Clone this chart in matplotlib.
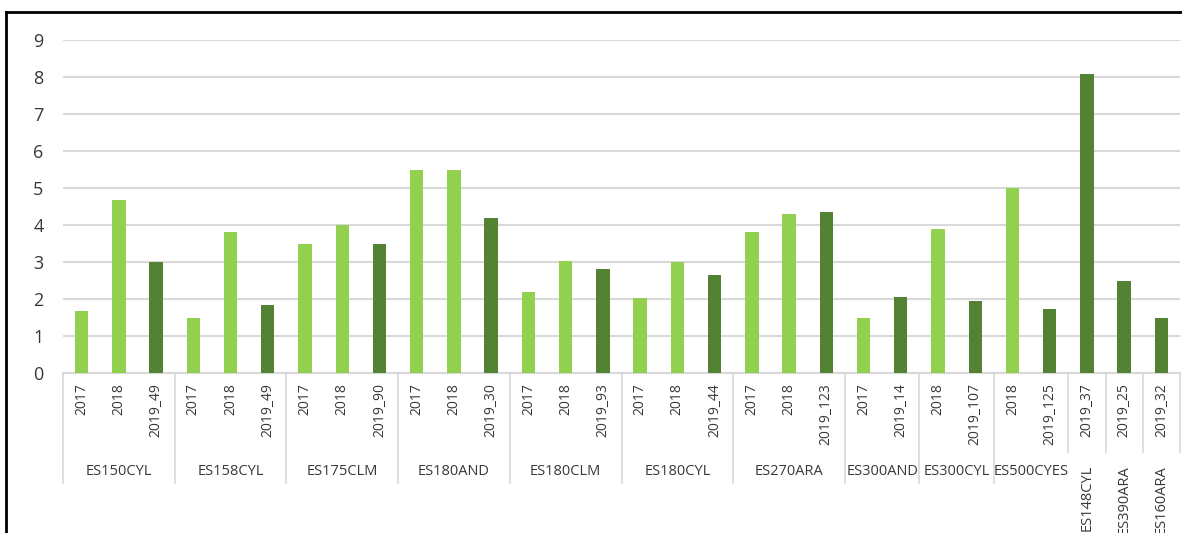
import matplotlib
matplotlib.use("Agg")
import matplotlib.pyplot as plt
from matplotlib.lines import Line2D
from matplotlib.transforms import Bbox, TransformedBbox, blended_transform_factory

plt.rcParams['font.family'] = ['Open Sans', 'DejaVu Sans']

# data
groups = ['ES150CYL', 'ES158CYL', 'ES175CLM', 'ES180AND', 'ES180CLM', 'ES180CYL',
          'ES270ARA', 'ES300AND', 'ES300CYL', 'ES500CYES', 'ES148CYL', 'ES390ARA', 'ES160ARA']
group_cats = [
    ['2017', '2018', '2019_49'],
    ['2017', '2018', '2019_49'],
    ['2017', '2018', '2019_90'],
    ['2017', '2018', '2019_30'],
    ['2017', '2018', '2019_93'],
    ['2017', '2018', '2019_44'],
    ['2017', '2018', '2019_123'],
    ['2017', '2019_14'],
    ['2018', '2019_107'],
    ['2018', '2019_125'],
    ['2019_37'],
    ['2019_25'],
    ['2019_32'],
]
group_vals = [
    [1.67, 4.68, 3.0],
    [1.5, 3.8, 1.85],
    [3.5, 4.0, 3.5],
    [5.5, 5.5, 4.2],
    [2.18, 3.03, 2.81],
    [2.04, 2.99, 2.66],
    [3.8, 4.3, 4.34],
    [1.5, 2.05],
    [3.9, 1.94],
    [5.0, 1.74],
    [8.07],
    [2.49],
    [1.5],
]

LIGHT = '#92D050'
DARK = '#548235'
TEXT = '#383838'
GRID = '#d9d9d9'

labels, values, colors = [], [], []
for cats, vals in zip(group_cats, group_vals):
    for c, v in zip(cats, vals):
        labels.append(c)
        values.append(v)
        colors.append(DARK if c.startswith('2019') else LIGHT)

W, H = 1182, 533
fig = plt.figure(figsize=(W / 100, H / 100), dpi=100)
ax = fig.add_axes([63 / W, (H - 373) / H, (1180 - 63) / W, (373 - 40) / H])

x = list(range(len(values)))
ax.bar(x, values, width=0.36, color=colors, zorder=3)

ax.set_xlim(-0.5, len(values) - 0.5)
ax.set_ylim(0, 9)
ax.set_yticks(range(0, 10))
ax.yaxis.grid(True, color=GRID, linewidth=1.5, zorder=0)
ax.tick_params(axis='y', length=0, pad=14, labelsize=13, labelcolor=TEXT)
ax.set_xticks([])
for s in ['top', 'right', 'left']:
    ax.spines[s].set_visible(False)
ax.spines['bottom'].set_color(GRID)
ax.spines['bottom'].set_linewidth(1.5)

tr = blended_transform_factory(ax.transData, ax.transAxes)

# category labels
for xi, lab in zip(x, labels):
    ax.text(xi, -0.03, lab, rotation=90, ha='center', va='top', fontsize=10,
            color=TEXT, transform=tr, clip_on=False)

# group labels and separators
start = 0
sep_lines = []
for g, cats in zip(groups, group_cats):
    n = len(cats)
    left, right = start - 0.5, start + n - 0.5
    mid = start + (n - 1) / 2
    if n > 1:
        t = ax.text(mid, -0.297, g, ha='center', va='center', fontsize=10.5,
                    color=TEXT, transform=tr, clip_on=False)
        box = TransformedBbox(Bbox([[left, -1], [right, 0]]), tr)
        t.set_clip_box(box)
        t.set_clip_on(True)
        bottom = -0.33
    else:
        ax.text(mid, -0.276, g, rotation=90, ha='center', va='top', fontsize=10.5,
                color=TEXT, transform=tr, clip_on=False)
        bottom = -0.237
    sep_lines.append((left, bottom))
    sep_lines.append((right, bottom))
    start += n

# shared boundaries: the shorter line wins next to single-bar groups
seps = {}
for pos, b in sep_lines:
    seps[pos] = max(seps.get(pos, -1), b)
for pos, b in seps.items():
    ax.add_line(Line2D([pos, pos], [0, b], transform=tr, color=GRID,
                       linewidth=1.2, clip_on=False))

# outer frame (cut off at right and bottom)
fig.add_artist(Line2D([6 / W, 6 / W], [0, 1 - 12 / H], transform=fig.transFigure,
                      color='black', linewidth=2))
fig.add_artist(Line2D([6 / W, 1], [1 - 12 / H, 1 - 12 / H], transform=fig.transFigure,
                      color='black', linewidth=2))

fig.savefig('out.png', dpi=100)
